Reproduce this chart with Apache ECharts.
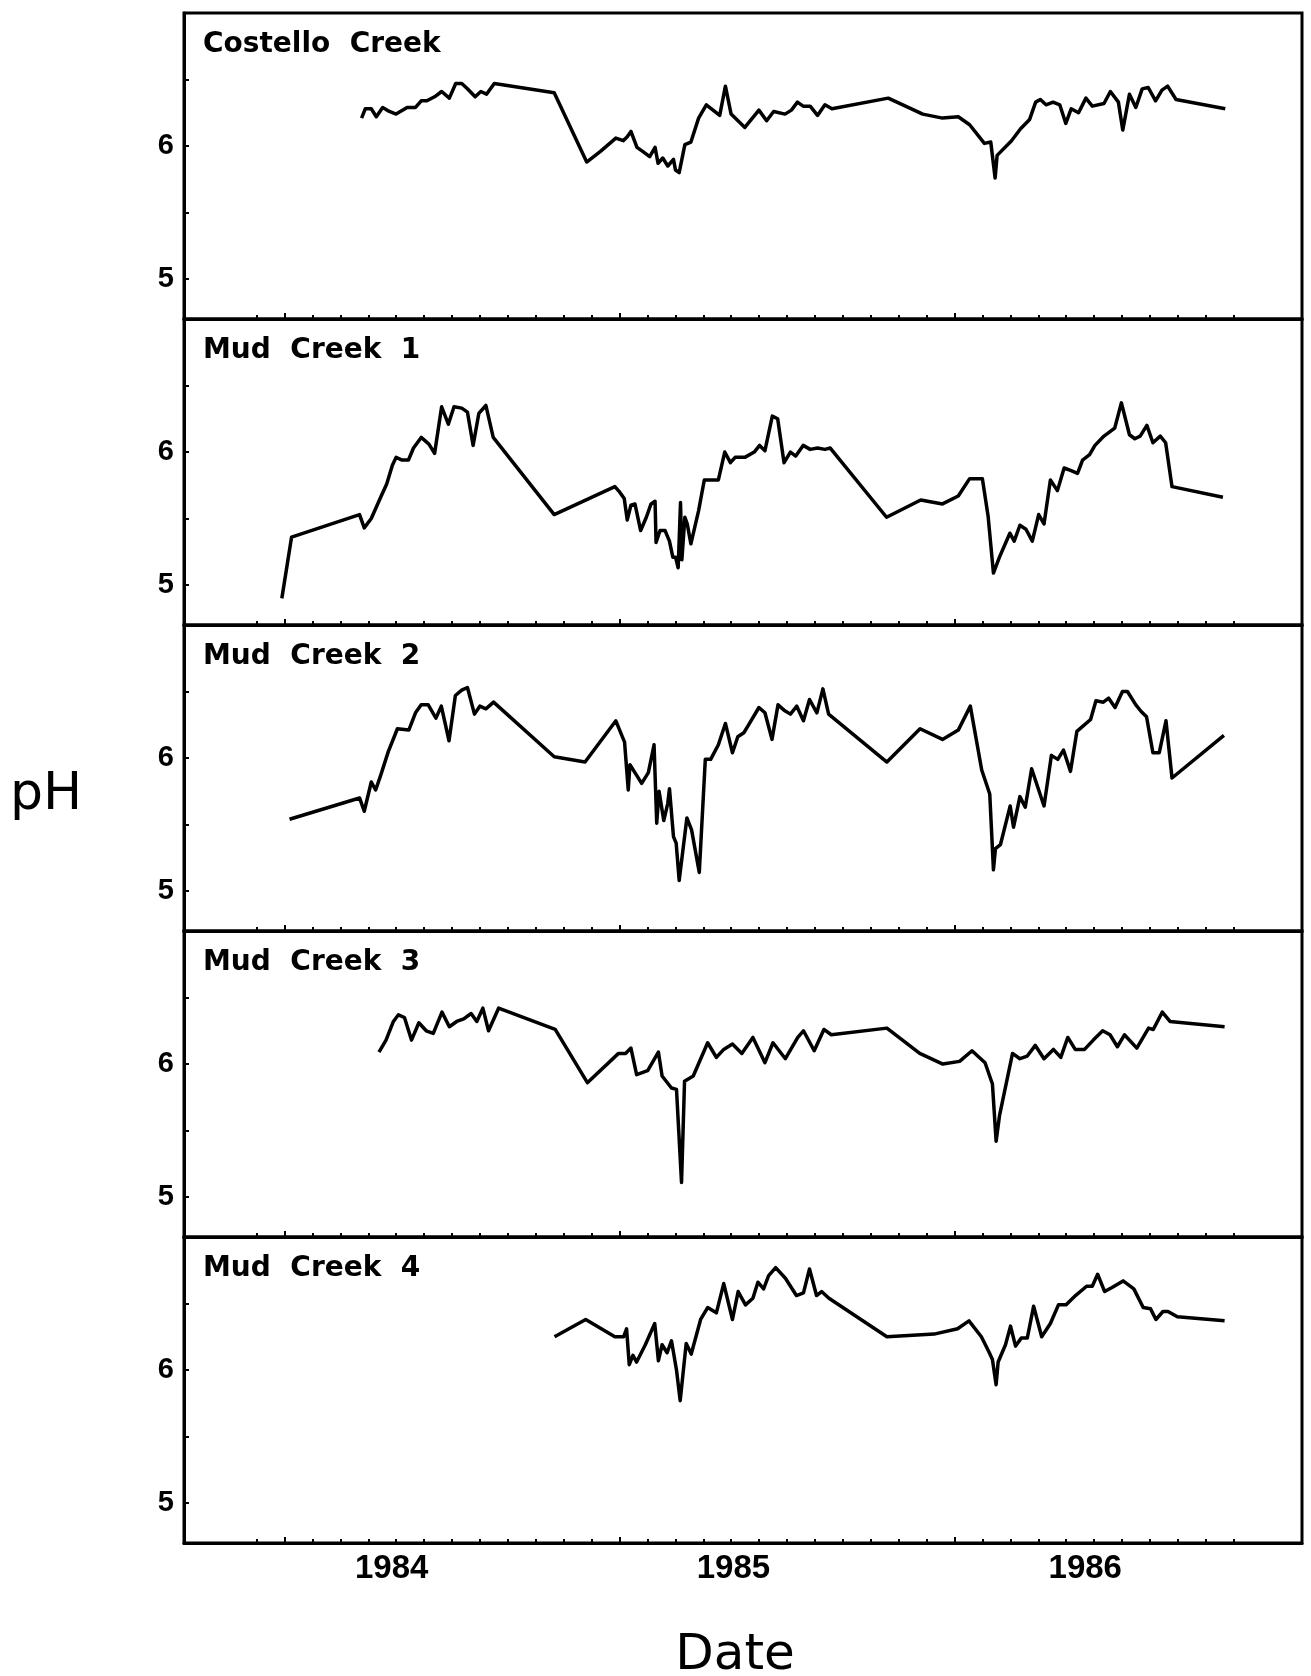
<!DOCTYPE html>
<html>
<head>
<meta charset="utf-8">
<script src="https://cdn.jsdelivr.net/npm/echarts@6/dist/echarts.min.js"></script>
<style>html,body{margin:0;padding:0;background:#fff;}#c{width:1311px;height:1676px;}</style>
</head>
<body>
<div id="c"></div>
<script>
// ---- data (decimal year, pH) ----
const panelNames = ['Costello  Creek', 'Mud  Creek  1', 'Mud  Creek  2', 'Mud  Creek  3', 'Mud  Creek  4'];
const yearLabels = ['1984', '1985', '1986'];
const yearLabelAt = [1984.32, 1985.34, 1986.39];
const yearTicks = [1984, 1985, 1986];
const yTicks = [5, 5.5, 6, 6.5];
const yLabels = [5, 6];

const costello = [[1984.230,6.21],[1984.241,6.28],[1984.259,6.28],[1984.274,6.22],[1984.293,6.29],[1984.313,6.26],[1984.333,6.24],[1984.366,6.29],[1984.391,6.29],[1984.408,6.34],[1984.425,6.34],[1984.448,6.37],[1984.469,6.41],[1984.492,6.36],[1984.511,6.47],[1984.529,6.47],[1984.546,6.43],[1984.569,6.37],[1984.586,6.41],[1984.603,6.39],[1984.626,6.47],[1984.805,6.40],[1984.902,5.88],[1984.943,5.96],[1984.989,6.06],[1985.011,6.04],[1985.023,6.07],[1985.034,6.11],[1985.052,5.99],[1985.069,5.96],[1985.090,5.92],[1985.106,5.99],[1985.115,5.87],[1985.129,5.91],[1985.144,5.85],[1985.161,5.90],[1985.167,5.82],[1985.178,5.80],[1985.195,6.01],[1985.213,6.03],[1985.236,6.21],[1985.259,6.31],[1985.299,6.23],[1985.316,6.45],[1985.333,6.24],[1985.374,6.14],[1985.416,6.27],[1985.439,6.19],[1985.460,6.26],[1985.494,6.24],[1985.513,6.27],[1985.531,6.33],[1985.548,6.30],[1985.569,6.30],[1985.591,6.23],[1985.613,6.31],[1985.634,6.28],[1985.802,6.36],[1985.905,6.24],[1985.964,6.21],[1986.011,6.22],[1986.045,6.16],[1986.089,6.02],[1986.108,6.03],[1986.121,5.76],[1986.127,5.93],[1986.170,6.04],[1986.197,6.13],[1986.224,6.20],[1986.242,6.33],[1986.256,6.35],[1986.273,6.31],[1986.294,6.33],[1986.314,6.31],[1986.332,6.17],[1986.348,6.28],[1986.370,6.25],[1986.392,6.36],[1986.411,6.30],[1986.446,6.32],[1986.465,6.41],[1986.489,6.33],[1986.502,6.12],[1986.522,6.39],[1986.541,6.29],[1986.560,6.43],[1986.578,6.44],[1986.600,6.34],[1986.619,6.42],[1986.636,6.45],[1986.661,6.35],[1986.808,6.28]];

const mud1 = [[1983.992,4.90],[1984.021,5.36],[1984.224,5.53],[1984.238,5.43],[1984.259,5.50],[1984.287,5.66],[1984.305,5.76],[1984.322,5.90],[1984.333,5.96],[1984.351,5.94],[1984.370,5.94],[1984.385,6.03],[1984.408,6.11],[1984.431,6.06],[1984.448,5.99],[1984.469,6.34],[1984.489,6.21],[1984.506,6.34],[1984.529,6.33],[1984.546,6.30],[1984.563,6.05],[1984.580,6.29],[1984.601,6.35],[1984.623,6.11],[1984.805,5.53],[1984.986,5.74],[1985.000,5.70],[1985.014,5.65],[1985.023,5.49],[1985.034,5.60],[1985.046,5.61],[1985.063,5.41],[1985.080,5.51],[1985.094,5.61],[1985.106,5.63],[1985.109,5.32],[1985.121,5.41],[1985.136,5.41],[1985.144,5.36],[1985.149,5.33],[1985.159,5.21],[1985.167,5.21],[1985.175,5.13],[1985.182,5.62],[1985.186,5.19],[1985.195,5.51],[1985.202,5.46],[1985.213,5.31],[1985.236,5.56],[1985.253,5.79],[1985.295,5.79],[1985.314,6.00],[1985.331,5.92],[1985.345,5.96],[1985.374,5.96],[1985.402,6.00],[1985.418,6.05],[1985.434,6.01],[1985.456,6.27],[1985.472,6.25],[1985.491,5.92],[1985.510,6.00],[1985.526,5.97],[1985.548,6.05],[1985.569,6.02],[1985.591,6.03],[1985.613,6.02],[1985.629,6.03],[1985.797,5.51],[1985.899,5.64],[1985.964,5.61],[1986.011,5.67],[1986.045,5.80],[1986.083,5.80],[1986.100,5.52],[1986.116,5.09],[1986.134,5.21],[1986.165,5.39],[1986.178,5.33],[1986.195,5.45],[1986.213,5.42],[1986.232,5.33],[1986.251,5.53],[1986.267,5.46],[1986.286,5.79],[1986.307,5.71],[1986.327,5.88],[1986.348,5.86],[1986.367,5.84],[1986.382,5.94],[1986.403,5.98],[1986.419,6.05],[1986.446,6.12],[1986.478,6.18],[1986.498,6.37],[1986.522,6.13],[1986.538,6.10],[1986.554,6.12],[1986.574,6.20],[1986.592,6.07],[1986.614,6.12],[1986.630,6.07],[1986.649,5.74],[1986.801,5.66]];

const mud2 = [[1984.015,5.54],[1984.224,5.70],[1984.238,5.60],[1984.259,5.82],[1984.272,5.76],[1984.287,5.87],[1984.310,6.05],[1984.337,6.22],[1984.371,6.21],[1984.391,6.34],[1984.408,6.40],[1984.429,6.40],[1984.452,6.30],[1984.468,6.39],[1984.491,6.13],[1984.510,6.47],[1984.529,6.51],[1984.546,6.53],[1984.567,6.33],[1984.583,6.39],[1984.601,6.37],[1984.624,6.42],[1984.805,6.01],[1984.897,5.97],[1984.989,6.28],[1985.015,6.12],[1985.026,5.76],[1985.031,5.95],[1985.046,5.89],[1985.066,5.81],[1985.086,5.89],[1985.103,6.10],[1985.111,5.51],[1985.118,5.75],[1985.132,5.53],[1985.144,5.66],[1985.149,5.77],[1985.161,5.41],[1985.169,5.36],[1985.178,5.08],[1985.201,5.55],[1985.215,5.46],[1985.238,5.14],[1985.256,5.99],[1985.272,5.99],[1985.295,6.10],[1985.316,6.26],[1985.337,6.04],[1985.353,6.16],[1985.371,6.19],[1985.383,6.24],[1985.416,6.38],[1985.434,6.34],[1985.455,6.14],[1985.473,6.40],[1985.491,6.36],[1985.510,6.33],[1985.529,6.39],[1985.549,6.28],[1985.567,6.44],[1985.589,6.34],[1985.607,6.52],[1985.624,6.33],[1985.798,5.97],[1985.897,6.22],[1985.964,6.14],[1986.011,6.21],[1986.047,6.39],[1986.081,5.91],[1986.105,5.73],[1986.116,5.16],[1986.122,5.32],[1986.137,5.35],[1986.166,5.64],[1986.176,5.48],[1986.195,5.71],[1986.211,5.63],[1986.230,5.92],[1986.267,5.64],[1986.289,6.02],[1986.308,5.99],[1986.325,6.06],[1986.346,5.90],[1986.365,6.20],[1986.406,6.29],[1986.422,6.43],[1986.444,6.42],[1986.460,6.45],[1986.479,6.38],[1986.501,6.50],[1986.516,6.50],[1986.541,6.40],[1986.557,6.35],[1986.573,6.31],[1986.592,6.04],[1986.611,6.04],[1986.631,6.28],[1986.649,5.85],[1986.804,6.17]];

const mud3 = [[1984.282,6.09],[1984.303,6.18],[1984.325,6.32],[1984.340,6.37],[1984.358,6.35],[1984.379,6.18],[1984.401,6.31],[1984.423,6.25],[1984.444,6.23],[1984.470,6.39],[1984.492,6.28],[1984.514,6.32],[1984.535,6.34],[1984.557,6.38],[1984.574,6.32],[1984.592,6.42],[1984.609,6.25],[1984.639,6.42],[1984.808,6.26],[1984.904,5.86],[1984.997,6.08],[1985.018,6.08],[1985.034,6.12],[1985.051,5.92],[1985.084,5.95],[1985.116,6.09],[1985.127,5.91],[1985.155,5.82],[1985.170,5.81],[1985.185,5.11],[1985.194,5.87],[1985.220,5.91],[1985.263,6.16],[1985.289,6.05],[1985.311,6.11],[1985.337,6.15],[1985.365,6.08],[1985.398,6.20],[1985.434,6.01],[1985.458,6.16],[1985.495,6.04],[1985.532,6.20],[1985.549,6.25],[1985.581,6.10],[1985.610,6.26],[1985.632,6.22],[1985.798,6.27],[1985.896,6.08],[1985.965,6.00],[1986.015,6.02],[1986.052,6.10],[1986.091,6.01],[1986.113,5.85],[1986.124,5.42],[1986.134,5.61],[1986.173,6.08],[1986.195,6.04],[1986.217,6.06],[1986.241,6.14],[1986.267,6.04],[1986.295,6.11],[1986.317,6.05],[1986.338,6.20],[1986.360,6.11],[1986.388,6.11],[1986.414,6.18],[1986.442,6.25],[1986.464,6.22],[1986.486,6.13],[1986.507,6.22],[1986.544,6.12],[1986.579,6.27],[1986.593,6.26],[1986.620,6.39],[1986.643,6.32],[1986.806,6.28]];

const mud4 = [[1984.806,6.25],[1984.899,6.38],[1984.986,6.25],[1985.012,6.25],[1985.021,6.31],[1985.029,6.04],[1985.040,6.11],[1985.051,6.06],[1985.077,6.19],[1985.105,6.35],[1985.116,6.07],[1985.127,6.19],[1985.142,6.13],[1985.155,6.22],[1985.170,6.00],[1985.181,5.77],[1985.199,6.20],[1985.214,6.12],[1985.242,6.38],[1985.263,6.47],[1985.289,6.43],[1985.311,6.65],[1985.337,6.38],[1985.354,6.59],[1985.376,6.49],[1985.398,6.54],[1985.413,6.66],[1985.430,6.61],[1985.445,6.71],[1985.466,6.77],[1985.495,6.69],[1985.528,6.56],[1985.549,6.58],[1985.567,6.76],[1985.588,6.56],[1985.603,6.59],[1985.625,6.54],[1985.798,6.25],[1985.939,6.27],[1986.009,6.31],[1986.043,6.37],[1986.080,6.25],[1986.102,6.14],[1986.113,6.08],[1986.124,5.89],[1986.130,6.06],[1986.152,6.19],[1986.167,6.33],[1986.182,6.18],[1986.199,6.24],[1986.217,6.24],[1986.236,6.48],[1986.260,6.25],[1986.286,6.35],[1986.310,6.49],[1986.333,6.49],[1986.361,6.56],[1986.394,6.63],[1986.411,6.63],[1986.427,6.72],[1986.448,6.59],[1986.470,6.62],[1986.503,6.67],[1986.535,6.61],[1986.563,6.47],[1986.585,6.46],[1986.601,6.38],[1986.622,6.44],[1986.637,6.44],[1986.665,6.40],[1986.806,6.37]];

const panelData = [costello, mud1, mud2, mud3, mud4];

// ---- layout ----
const X_MIN = 1983.70, X_MAX = 1987.037;
const Y_MIN = 4.7, Y_MAX = 7.0;
const GL = 184, GW = 1118, GT = 13, GH = 306;
const monthTicks = [];
for (let m = 0; m < 36; m++) monthTicks.push(1983 + 11 / 12 + m / 12);

const TICK_FONT = '"Liberation Sans", Arial, sans-serif';
const grids = [], xAxes = [], yAxes = [], series = [], graphics = [];
panelData.forEach((d, i) => {
  grids.push({ left: GL, width: GW, top: GT + i * GH, height: GH, show: true, borderColor: '#000', borderWidth: 3, backgroundColor: 'transparent' });
  const isLast = i === panelData.length - 1;
  xAxes.push({
    type: 'value', gridIndex: i, min: X_MIN, max: X_MAX, position: 'bottom', offset: 0,
    axisLine: { show: true, onZero: false, lineStyle: { color: '#000', width: 3 } },
    axisTick: { show: true, inside: true, length: 4, lineStyle: { color: '#000', width: 2 }, customValues: monthTicks },
    axisLabel: isLast ? {
      show: true, customValues: yearLabelAt, margin: 9,
      formatter: v => { const k = yearLabelAt.findIndex(p => Math.abs(p - v) < 1e-6); return k >= 0 ? yearLabels[k] : ''; },
      fontFamily: TICK_FONT, fontWeight: 'bold', fontSize: 33, color: '#000'
    } : { show: false },
    splitLine: { show: false }
  });
  xAxes.push({
    type: 'value', gridIndex: i, min: X_MIN, max: X_MAX, position: 'bottom', offset: 0,
    axisLine: { show: false, onZero: false },
    axisTick: { show: true, inside: true, length: 6, lineStyle: { color: '#000', width: 2 }, customValues: yearTicks },
    axisLabel: { show: false }, splitLine: { show: false }
  });
  yAxes.push({
    type: 'value', gridIndex: i, min: Y_MIN, max: Y_MAX, position: 'left',
    axisLine: { show: true, onZero: false, lineStyle: { color: '#000', width: 3 } },
    axisTick: { show: true, inside: true, length: 5, lineStyle: { color: '#000', width: 2 }, customValues: yTicks },
    axisLabel: { show: true, customValues: yLabels, margin: 10, fontFamily: TICK_FONT, fontWeight: 'bold', fontSize: 29, color: '#000' },
    splitLine: { show: false }
  });
  series.push({
    type: 'line', xAxisIndex: 2 * i, yAxisIndex: i, data: d,
    showSymbol: false, symbol: 'none', animation: false,
    lineStyle: { color: '#000', width: 3.5, join: 'round' }
  });
  graphics.push({
    type: 'text', left: GL + 19, top: GT + i * GH + 18,
    style: { text: panelNames[i], font: 'bold 28px "DejaVu Sans"', fill: '#000' }
  });
});
graphics.push({ type: 'text', x: 46, y: 795, style: { text: 'pH', font: '52px "DejaVu Sans"', fill: '#000', textAlign: 'center', textVerticalAlign: 'middle' } });
graphics.push({ type: 'text', x: 735, y: 1656, style: { text: 'Date', font: '50px "DejaVu Sans"', fill: '#000', textAlign: 'center', textVerticalAlign: 'middle' } });

const chart = echarts.init(document.getElementById('c'), null, { renderer: 'canvas' });
chart.setOption({
  animation: false,
  backgroundColor: '#fff',
  grid: grids, xAxis: xAxes, yAxis: yAxes, series: series, graphic: graphics
});
</script>
</body>
</html>
